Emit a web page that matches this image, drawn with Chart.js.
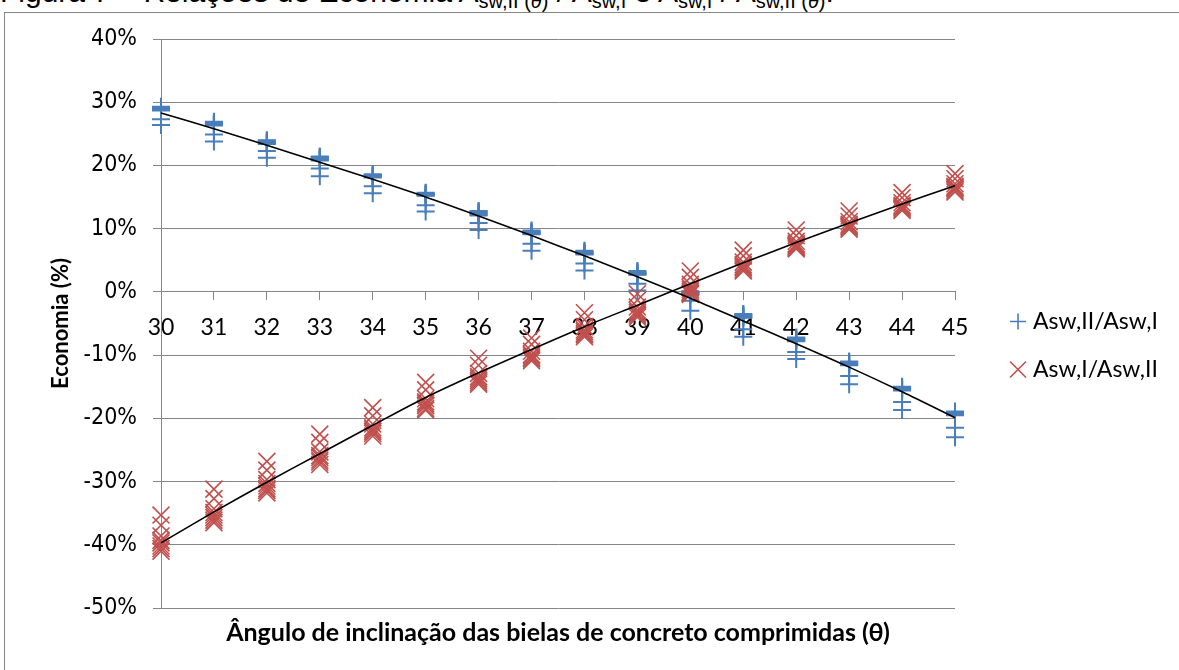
<!DOCTYPE html>
<html>
<head>
<meta charset="utf-8">
<script src="https://cdn.jsdelivr.net/npm/chart.js@4.4.1/dist/chart.umd.min.js"></script>
<style>
  html, body { margin: 0; padding: 0; background: #fff; }
  body { width: 1179px; height: 670px; position: relative; overflow: hidden; }
  #caption { position: absolute; left: 0; top: -23px; font-family: "Liberation Sans", Arial, sans-serif;
             font-size: 30px; line-height: 30px; white-space: nowrap; color: #000; }
  #caption sub { font-size: 20px; vertical-align: -6px; line-height: 0; }
  #frame { position: absolute; left: 4px; top: 12px; width: 1300px; height: 800px; border: 1px solid #868686; }
  #chart { position: absolute; left: 0; top: 0; }
</style>
</head>
<body>
<div id="caption">Figura 7 – Relações de Economia A<sub>sw,II (<i>θ</i>)</sub> / A<sub>sw,I</sub> e A<sub>sw,I</sub> / A<sub>sw,II (<i>θ</i>)</sub>.</div>
<div id="frame"></div>
<canvas id="chart" width="1179" height="670"></canvas>
<script>
// angle of the compressed struts (degrees)
const angles = [30, 31, 32, 33, 34, 35, 36, 37, 38, 39, 40, 41, 42, 43, 44, 45];

// Asw,II/Asw,I economy (%), one row per angle
const blueRows = [
  [29.3, 29.2, 29.1, 28.9, 28.8, 28.7, 27.3, 26.4],
  [26.9, 26.8, 26.7, 26.5, 26.4, 26.3, 24.9, 23.8],
  [24.0, 23.9, 23.8, 23.6, 23.5, 23.4, 22.3, 21.2],
  [21.4, 21.3, 21.2, 21.0, 20.9, 20.8, 19.5, 18.3],
  [18.6, 18.5, 18.4, 18.3, 18.2, 18.1, 16.7, 15.6],
  [15.7, 15.6, 15.5, 15.4, 15.3, 15.2, 13.7, 12.7],
  [12.8, 12.7, 12.5, 12.4, 12.2, 12.1, 10.9, 9.8],
  [9.7, 9.6, 9.4, 9.3, 9.2, 9.1, 7.6, 6.5],
  [6.5, 6.4, 6.2, 6.1, 6.0, 5.9, 4.5, 3.4],
  [3.3, 3.2, 3.0, 2.9, 2.8, 2.7, 1.3, 0.2],
  [0.1, 0.0, -0.1, -0.2, -0.3, -0.4, -1.4, -3.0],
  [-3.5, -3.6, -3.7, -3.9, -4.0, -4.1, -5.9, -7.1],
  [-7.2, -7.3, -7.4, -7.6, -7.7, -7.8, -9.5, -10.6],
  [-11.0, -11.1, -11.2, -11.4, -11.5, -11.6, -13.3, -14.6],
  [-15.0, -15.1, -15.2, -15.4, -15.5, -15.6, -17.4, -18.7],
  [-18.9, -19.0, -19.1, -19.3, -19.4, -19.5, -21.5, -23.0]
];

// Asw,I/Asw,II economy (%), one row per angle
const redRows = [
  [-35.3, -36.9, -38.6, -39.3, -39.7, -40.2, -40.6, -41.0],
  [-31.2, -32.7, -34.3, -34.9, -35.3, -35.7, -36.1, -36.5],
  [-26.8, -28.2, -29.7, -30.3, -30.7, -31.1, -31.4, -31.8],
  [-22.5, -23.8, -25.3, -25.9, -26.2, -26.6, -26.9, -27.3],
  [-18.3, -19.6, -20.9, -21.5, -21.8, -22.1, -22.4, -22.8],
  [-14.3, -15.5, -16.9, -17.4, -17.7, -18.0, -18.4, -18.7],
  [-10.5, -11.6, -12.9, -13.4, -13.7, -14.0, -14.3, -14.6],
  [-7.3, -8.3, -9.4, -9.9, -10.1, -10.4, -10.6, -10.9],
  [-3.3, -4.4, -5.5, -6.0, -6.3, -6.6, -6.8, -7.1],
  [-0.3, -1.3, -2.4, -2.9, -3.2, -3.5, -3.7, -4.0],
  [3.3, 2.3, 1.2, 0.7, 0.4, 0.1, -0.2, -0.4],
  [6.6, 5.7, 4.7, 4.3, 4.0, 3.8, 3.5, 3.3],
  [9.8, 8.9, 8.0, 7.6, 7.4, 7.2, 7.0, 6.8],
  [12.8, 12.0, 11.1, 10.7, 10.5, 10.3, 10.1, 9.9],
  [15.7, 14.9, 14.1, 13.7, 13.5, 13.3, 13.1, 12.9],
  [18.7, 17.9, 17.1, 16.7, 16.5, 16.3, 16.0, 15.8]
];

// trend lines
const blueTrend = [28.3, 25.8, 23.2, 20.5, 17.8, 15.0, 12.0, 8.9, 5.7, 2.4, -1.0, -4.6, -8.2, -11.9, -15.8, -19.9];
const redTrend = [-39.7, -34.8, -30.1, -25.6, -21.1, -16.7, -12.8, -9.1, -5.5, -2.1, 1.3, 4.6, 7.8, 10.9, 13.9, 16.8];

const yTicks = [-50, -40, -30, -20, -10, 0, 10, 20, 30, 40];
const seriesNames = ['Asw,II/Asw,I', 'Asw,I/Asw,II'];

const BLUE = '#4a7ebb';
const RED = '#c0504d';
const GRID = '#868686';
const FONT = 'Lato, "Open Sans", sans-serif';

function points(rows) {
  return angles.flatMap((a, i) => rows[i].map(v => ({ x: a, y: v })));
}
function line(vals) {
  return angles.map((a, i) => ({ x: a, y: vals[i] }));
}

// legend drawn at the right, like the Excel one
const sideLegend = {
  id: 'sideLegend',
  afterDraw(chart) {
    const ctx = chart.ctx;
    const area = chart.chartArea;
    const midY = (area.top + area.bottom) / 2;
    const items = [
      { text: seriesNames[0], style: 'cross', color: BLUE, r: 8, w: 1.5, y: midY - 2 },
      { text: seriesNames[1], style: 'crossRot', color: RED, r: 11.3, w: 1.5, y: midY + 46 }
    ];
    ctx.save();
    items.forEach(it => {
      ctx.strokeStyle = it.color;
      ctx.fillStyle = it.color;
      Chart.helpers.drawPoint(ctx, { pointStyle: it.style, radius: it.r, borderWidth: it.w, rotation: 0 }, area.right + 63, it.y);
      ctx.fillStyle = '#000';
      ctx.font = '23px ' + FONT;
      ctx.textBaseline = 'middle';
      ctx.textAlign = 'left';
      ctx.fillText(it.text, area.right + 78, it.y);
    });
    ctx.restore();
  }
};

new Chart(document.getElementById('chart'), {
  type: 'scatter',
  data: {
    datasets: [
      { label: 'trend II/I', type: 'line', data: line(blueTrend), borderColor: '#000', borderWidth: 1.6,
        pointRadius: 0, tension: 0.3, fill: false, order: 0, clip: false },
      { label: 'trend I/II', type: 'line', data: line(redTrend), borderColor: '#000', borderWidth: 1.6,
        pointRadius: 0, tension: 0.3, fill: false, order: 0, clip: false },
      { label: seriesNames[1], data: points(redRows), pointStyle: 'crossRot', pointRadius: 12,
        borderColor: RED, backgroundColor: RED, borderWidth: 1.6, order: 1, clip: false },
      { label: seriesNames[0], data: points(blueRows), pointStyle: 'cross', pointRadius: 9,
        borderColor: BLUE, backgroundColor: BLUE, borderWidth: 2, order: 2, clip: false }
    ]
  },
  options: {
    responsive: false,
    animation: false,
    devicePixelRatio: 1,
    layout: { padding: { left: 0, top: 39, right: 224, bottom: 0 } },
    plugins: { legend: { display: false }, tooltip: { enabled: false } },
    scales: {
      x: {
        type: 'linear', min: 30, max: 45, position: { y: 0 },
        ticks: { stepSize: 1, color: '#000', padding: 14, font: { family: FONT, size: 23 } },
        grid: { drawOnChartArea: false, drawTicks: true, tickLength: 8, color: GRID },
        border: { color: GRID }
      },
      xTitle: {
        type: 'linear', min: 30, max: 45, position: 'bottom',
        ticks: { display: false }, grid: { display: false }, border: { display: false },
        title: { display: true, text: 'Ângulo de inclinação das bielas de concreto comprimidas (θ)', color: '#000',
                 font: { family: FONT, size: 25, weight: 'bold' }, padding: { top: 0, bottom: 22 } },
        afterFit: s => { s.height = 62; }
      },
      y: {
        min: -50, max: 40,
        afterBuildTicks: s => { s.ticks = yTicks.map(v => ({ value: v })); },
        ticks: { color: '#000', padding: 16, callback: v => v + '%',
                 font: { family: '"Liberation Sans Narrow", "DejaVu Sans Condensed", sans-serif', size: 23 } },
        grid: { color: GRID, tickLength: 8 },
        border: { color: GRID },
        title: { display: true, text: 'Economia (%)', color: '#000',
                 font: { family: FONT, size: 22, weight: 'bold' }, padding: { top: 48, bottom: 0 } },
        afterFit: s => { s.width = 161; }
      }
    }
  },
  plugins: [sideLegend]
});
</script>
</body>
</html>
